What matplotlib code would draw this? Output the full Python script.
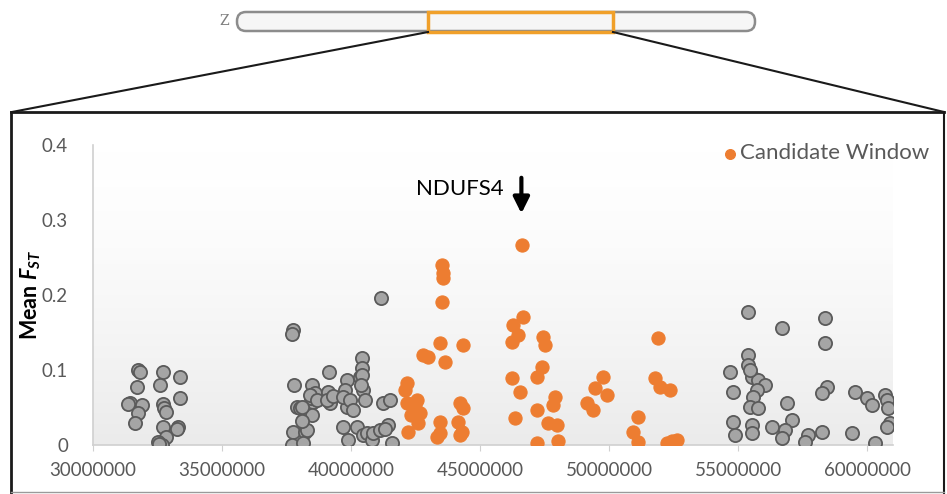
import matplotlib
matplotlib.use("Agg")
import matplotlib.pyplot as plt
import numpy as np
from matplotlib.patches import FancyBboxPatch, Rectangle
from matplotlib.colors import LinearSegmentedColormap

plt.rcParams['font.family'] = ['Lato', 'DejaVu Sans']
plt.rcParams['mathtext.fontset'] = 'custom'
plt.rcParams['mathtext.it'] = 'Lato:italic:bold'
plt.rcParams['mathtext.rm'] = 'Lato:bold'

# window positions (Mb) and mean Fst, background windows
gray_pos_mb = [
    31.74, 31.82, 31.71, 31.43, 31.36, 31.90, 31.74, 31.63,
    32.71, 32.60, 33.37, 33.37, 32.71, 32.75, 32.83, 32.71, 33.29, 33.26, 32.83, 32.52, 32.67, 32.55,
    37.75, 37.71, 37.79, 37.91, 38.02, 37.75, 38.22, 37.71, 38.14, 38.49, 38.53, 38.45, 38.49, 38.10,
    38.60, 38.41, 38.68, 38.29, 38.10,
    39.15, 39.11, 39.19, 39.07, 39.30, 39.84, 39.77, 39.84, 39.69, 39.96, 40.08, 40.35, 40.43, 40.43,
    40.43, 40.47, 40.54, 40.40, 39.69, 40.23, 39.88, 40.47, 40.62, 40.81, 40.85, 41.12, 41.43, 41.30,
    41.59, 41.24, 41.51, 41.16,
    55.39, 56.71, 58.37, 58.37, 55.39, 55.39, 54.69, 54.81, 55.54, 55.78, 56.05, 55.74, 55.58, 55.47,
    55.78, 56.90, 57.09, 56.32, 56.82, 56.71, 54.81, 54.88, 55.54, 55.54, 57.71, 57.60, 58.26, 58.45,
    58.26, 59.53, 60.00, 60.19, 60.70, 60.78, 60.81, 60.89, 60.78, 59.42, 60.31, 55.47,
]
gray_fst = [
    0.100, 0.097, 0.077, 0.056, 0.055, 0.053, 0.043, 0.030,
    0.097, 0.080, 0.091, 0.063, 0.055, 0.050, 0.044, 0.024, 0.024, 0.022, 0.011, 0.004, 0.000, 0.001,
    0.153, 0.148, 0.080, 0.051, 0.050, 0.017, 0.017, 0.000, 0.003, 0.080, 0.057, 0.063, 0.040, 0.051,
    0.069, 0.067, 0.060, 0.020, 0.032,
    0.097, 0.071, 0.056, 0.060, 0.065, 0.087, 0.073, 0.051, 0.064, 0.060, 0.047, 0.091, 0.116, 0.103,
    0.093, 0.073, 0.060, 0.080, 0.024, 0.024, 0.007, 0.013, 0.016, 0.007, 0.016, 0.020, 0.027, 0.022,
    0.003, 0.056, 0.060, 0.196,
    0.177, 0.156, 0.169, 0.136, 0.120, 0.107, 0.097, 0.071, 0.091, 0.087, 0.080, 0.073, 0.064, 0.051,
    0.049, 0.056, 0.033, 0.024, 0.020, 0.009, 0.031, 0.013, 0.027, 0.016, 0.013, 0.004, 0.017, 0.077,
    0.069, 0.071, 0.063, 0.053, 0.067, 0.060, 0.049, 0.029, 0.024, 0.016, 0.003, 0.100,
]

# candidate window
cand_pos_mb = [
    42.17, 42.09, 42.17, 42.56, 42.67, 42.60, 42.21, 42.48, 42.33,
    42.79, 42.98, 43.53, 43.57, 43.57, 43.53, 43.45, 43.64, 44.34,
    43.45, 43.45, 43.33, 44.22, 44.34, 44.15, 44.30, 44.22,
    46.63, 46.67, 46.28, 46.47, 46.24, 47.44, 47.52, 47.40, 47.21, 46.24, 46.55, 47.91, 47.83,
    46.36, 47.21, 47.64, 47.98, 47.21, 48.02,
    49.15, 49.38, 49.46, 49.77, 49.92, 51.12, 50.93, 51.12, 51.90, 51.78, 51.98, 52.36, 52.25, 52.64, 52.45,
]
cand_fst = [
    0.083, 0.073, 0.056, 0.060, 0.043, 0.029, 0.017, 0.053, 0.040,
    0.120, 0.117, 0.240, 0.229, 0.223, 0.191, 0.136, 0.111, 0.133,
    0.031, 0.016, 0.011, 0.056, 0.049, 0.031, 0.017, 0.013,
    0.267, 0.171, 0.160, 0.147, 0.137, 0.144, 0.133, 0.104, 0.091, 0.089, 0.071, 0.064, 0.053,
    0.036, 0.047, 0.029, 0.027, 0.003, 0.005,
    0.056, 0.047, 0.076, 0.091, 0.067, 0.037, 0.017, 0.004, 0.143, 0.089, 0.077, 0.073, 0.003, 0.007, 0.005,
]

x_ticks = [30000000, 35000000, 40000000, 45000000, 50000000, 55000000, 60000000]
y_ticks = [0, 0.1, 0.2, 0.3, 0.4]

W, H = 947, 494
fig = plt.figure(figsize=(W / 100, H / 100), dpi=100)

# decoration layer in pixel coordinates (chromosome + zoom box)
deco = fig.add_axes([0, 0, 1, 1], zorder=-1)
deco.set_xlim(0, W)
deco.set_ylim(H, 0)
deco.axis('off')
deco.add_patch(FancyBboxPatch((237, 12), 518, 19, boxstyle="round,pad=0,rounding_size=9",
                              facecolor='#f6f6f6', edgecolor='#8c8c8c', lw=1.8))
deco.add_patch(Rectangle((428, 12), 185, 20, fill=False, edgecolor='#f0a02a', lw=2.5))
deco.text(224, 21, 'Z', family='DejaVu Serif', fontsize=10, color='#7f7f7f', ha='center', va='center')
deco.plot([428, 12], [32, 112], color='#1a1a1a', lw=1.5)
deco.plot([613, 944], [32, 112], color='#1a1a1a', lw=1.5)
deco.plot([11, 944], [112, 112], color='#1a1a1a', lw=2)
deco.plot([11, 11], [112, 494], color='#1a1a1a', lw=2)
deco.plot([944, 944], [112, 494], color='#1a1a1a', lw=1.5)
deco.plot([11, 944], [492, 492], color='#9a9a9a', lw=1)

ax = fig.add_axes([93 / W, 1 - 445 / H, 800 / W, 300 / H])
ax.patch.set_alpha(0)

xmin, xmax = 30000000, 61000000
grad = (np.linspace(0, 1, 200) ** 1.5).reshape(-1, 1)
cmap = LinearSegmentedColormap.from_list('bg', ['#ffffff', '#ebebeb'])
ax.imshow(grad, extent=(xmin, xmax, 0, 0.4), aspect='auto', cmap=cmap, zorder=0, origin='upper')

gx = np.array(gray_pos_mb) * 1e6
cx = np.array(cand_pos_mb) * 1e6
ax.scatter(gx, gray_fst, s=90, facecolor='#a5a5a5', edgecolor='#5a5a5a', linewidth=1.3, zorder=3)
ax.scatter(cx, cand_fst, s=90, facecolor='#ed7d31', edgecolor='#ed7d31', linewidth=0.8, zorder=3,
           label='Candidate Window')

ax.set_xlim(xmin, xmax)
ax.set_ylim(0, 0.4)
ax.set_xticks(x_ticks)
ax.set_xticklabels([str(t) for t in x_ticks])
ax.set_yticks(y_ticks)
ax.set_yticklabels(['0', '0.1', '0.2', '0.3', '0.4'])

for s in ['top', 'right']:
    ax.spines[s].set_visible(False)
ax.spines['left'].set_color('#d0d0d0')
ax.spines['bottom'].set_color('#d0d0d0')
ax.spines['left'].set_linewidth(1.2)
ax.spines['bottom'].set_linewidth(1.2)
ax.tick_params(axis='x', length=4, color='#d0d0d0', labelsize=13.5, labelcolor='#595959', pad=8)
ax.tick_params(axis='y', length=0, labelsize=13.5, labelcolor='#595959', pad=18)

ax.set_ylabel(r'Mean $F_{ST}$', fontsize=15.5, fontweight='bold', color='black')
ax.yaxis.set_label_coords(-0.063, 0.5)

ax.annotate('', xy=(46.6e6, 0.305), xytext=(46.6e6, 0.36),
            arrowprops=dict(arrowstyle='-|>', color='black', lw=3, mutation_scale=24))
ax.text(44.2e6, 0.341, 'NDUFS4', fontsize=16, color='black', ha='center', va='center')

leg = ax.legend(loc='upper right', bbox_to_anchor=(1.056, 1.035), frameon=False, markerscale=0.75,
                handletextpad=0.05, borderaxespad=0, handlelength=0.8, fontsize=16)
for t in leg.get_texts():
    t.set_color('#595959')

fig.savefig('out.png', dpi=100)
